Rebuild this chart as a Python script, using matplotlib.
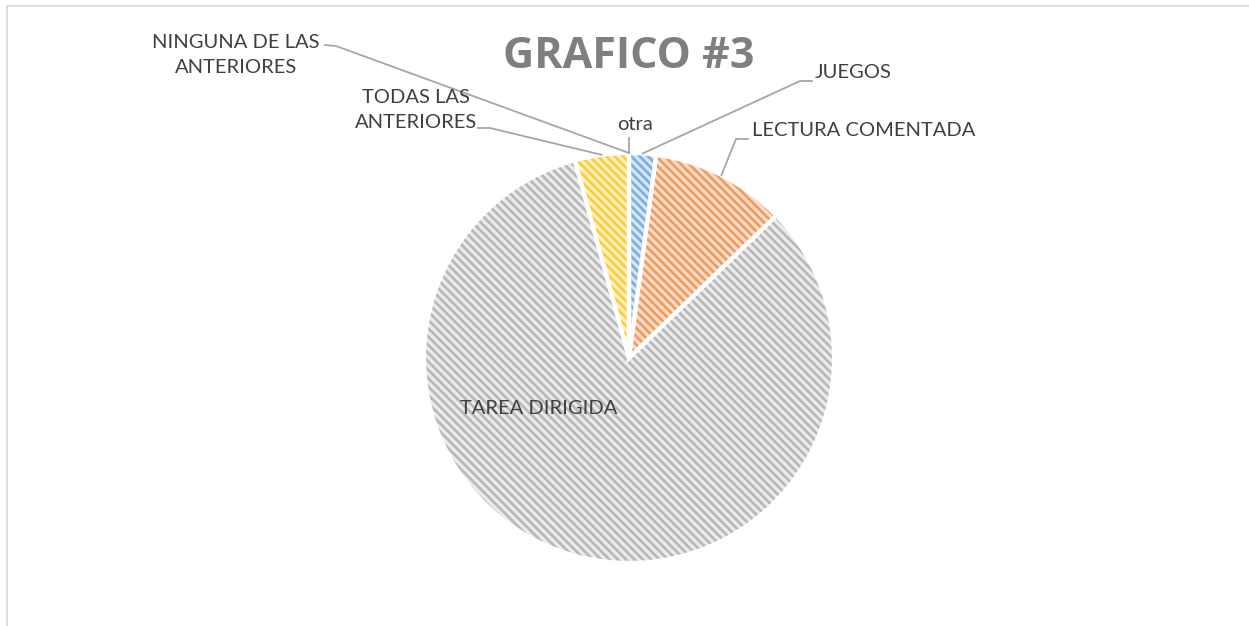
import numpy as np
import matplotlib.pyplot as plt
from matplotlib.patches import Rectangle

# datos
categorias = ['JUEGOS', 'LECTURA COMENTADA', 'TAREA DIRIGIDA',
              'TODAS LAS\nANTERIORES', 'NINGUNA DE LAS\nANTERIORES', 'otra']
valores = [1, 5, 39, 2, 0, 0]
colores = ['#7aaee0', '#f09a5e', '#b8b8b8', '#ffcc33', '#4472C4', '#70AD47']
tintes = ['#d6e5f5', '#fbdcc8', '#ebebeb', '#fff0c2', '#c7d3ee', '#d4e8c8']

W, H = 1249, 626
cx, cy, R = 629, H - 358, 205

plt.rcParams['font.family'] = ['Lato', 'DejaVu Sans']
plt.rcParams['hatch.linewidth'] = 1.9

fig = plt.figure(figsize=(W / 100, H / 100), dpi=100)
ax = fig.add_axes([0, 0, 1, 1])

# marco del grafico
ax.add_patch(Rectangle((7.5, -10), W, H - 5.5 + 10, fill=False,
                       edgecolor='#d9d9d9', linewidth=1.2))

# relleno con trama
wedges, _ = ax.pie(valores, center=(cx, cy), radius=R, startangle=90,
                   counterclock=False, frame=True,
                   wedgeprops=dict(linewidth=0))
for w, c, t in zip(wedges, colores, tintes):
    w.set_facecolor(t)
    w.set_edgecolor(c)
    w.set_hatch('\\' * 4)
# bordes blancos
ax.pie(valores, center=(cx, cy), radius=R, startangle=90, counterclock=False,
       frame=True, wedgeprops=dict(fill=False, edgecolor='white', linewidth=3))
ax.set_xlim(0, W)
ax.set_ylim(0, H)
ax.set_aspect('auto')
ax.axis('off')

# posicion de etiquetas (x, y en pixeles desde arriba), alineacion, codo de la linea
etq = {
    'JUEGOS': ((815, 73), 'left', (800, 81), (812, 81)),
    'LECTURA COMENTADA': ((752, 131), 'left', (736, 139), (748, 139)),
    'TODAS LAS\nANTERIORES': ((416, 110), 'center', (490, 128), (478, 128)),
    'NINGUNA DE LAS\nANTERIORES': ((236, 55), 'center', (336, 46), (325, 45)),
    'otra': ((635, 125), 'center', (629, 138), None),
}

txtc = '#404040'
fs = 14.5
for w, cat in zip(wedges, categorias):
    ang = np.deg2rad((w.theta1 + w.theta2) / 2)
    px, py = cx + R * np.cos(ang), cy + R * np.sin(ang)
    if cat == 'TAREA DIRIGIDA':
        ax.text(539, H - 408, cat, ha='center', va='center', fontsize=fs,
                color=txtc)
        continue
    (tx, ty), ha, codo, fin = etq[cat]
    xs = [px, codo[0]]
    ys = [py, H - codo[1]]
    if fin is not None:
        xs.append(fin[0])
        ys.append(H - fin[1])
    ax.plot(xs, ys, color='#a6a6a6', linewidth=1.3)
    ax.text(tx, H - ty, cat, ha=ha, va='center', fontsize=fs, color=txtc,
            linespacing=1.6, multialignment='center')

ax.text(629, H - 57, 'GRAFICO #3', ha='center', va='center', fontsize=31,
        fontweight='bold', color='#7f7f7f', family=['Open Sans', 'DejaVu Sans'])

fig.savefig('out.png', dpi=100)
